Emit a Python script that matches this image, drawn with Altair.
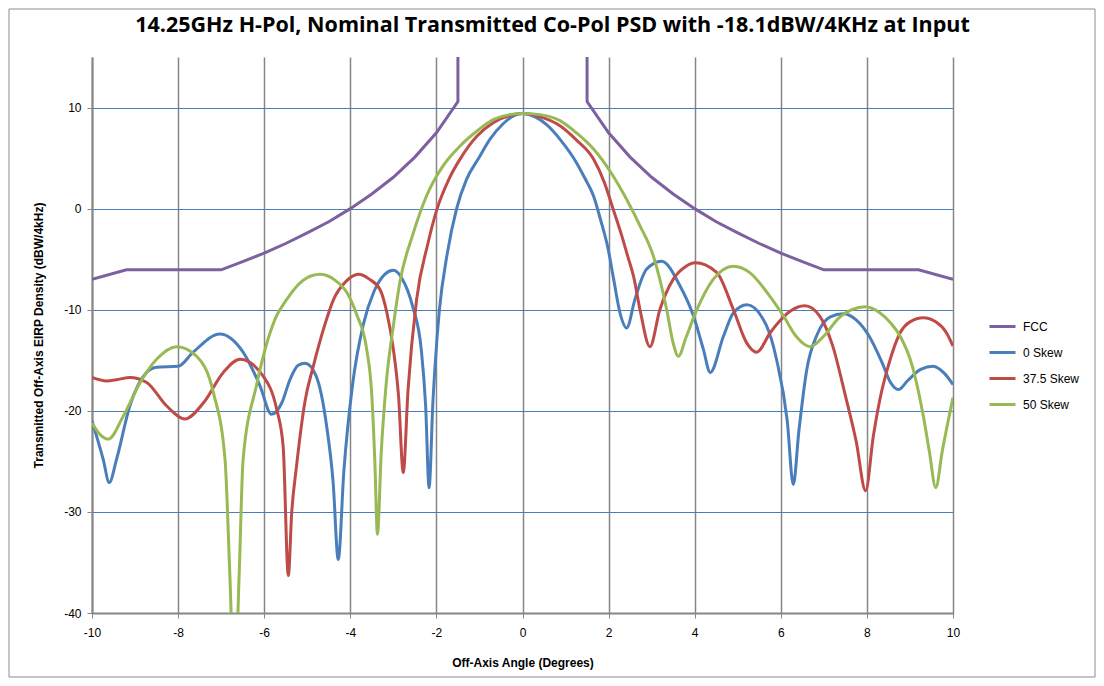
import altair as alt
import pandas as pd

TITLE = "14.25GHz H-Pol, Nominal Transmitted Co-Pol PSD with -18.1dBW/4KHz at Input"
X_TITLE = "Off-Axis Angle (Degrees)"
Y_TITLE = "Transmitted Off-Axis EIRP Density (dBW/4kHz)"

SERIES = ["FCC", "0 Skew", "37.5 Skew", "50 Skew"]
COLORS = ["#7D60A0", "#4A7EBB", "#BE4B48", "#98B954"]

X_TICKS = [-10, -8, -6, -4, -2, 0, 2, 4, 6, 8, 10]
Y_TICKS = [-40, -30, -20, -10, 0, 10]

# FCC envelope (the vertical parts leave the top of the plot)
FCC_X = [-10, -9.2, -7, -6.5, -6, -5.5, -5, -4.5, -4, -3.5, -3, -2.5, -2, -1.5, -1.5,
         1.5, 1.5, 2, 2.5, 3, 3.5, 4, 4.5, 5, 5.5, 6, 6.5, 7, 9.2, 10]
FCC_Y = [-7.0, -6.05, -6.05, -5.25, -4.4, -3.45, -2.4, -1.3, 0.0, 1.45, 3.1, 5.1, 7.5, 10.6, 40,
         40, 10.6, 7.5, 5.1, 3.1, 1.45, 0.0, -1.3, -2.4, -3.45, -4.4, -5.25, -6.05, -6.05, -7.0]

S0_X = [-10, -9.74, -9.6, -9.43, -9.12, -8.73, -8.5, -8.0, -7.65, -7.03, -6.49, -6.1, -5.83,
        -5.59, -5.4, -5.21, -5.05, -4.8, -4.55, -4.4, -4.28, -4.15, -3.95, -3.7, -3.45, -3.2,
        -3.0, -2.8, -2.55, -2.35, -2.25, -2.17, -2.08, -1.98, -1.93, -1.75, -1.53, -1.3, -1.03,
        -0.75, -0.45, -0.2, 0, 0.28, 0.56, 0.9, 1.26, 1.45, 1.65, 1.82, 1.99, 2.11, 2.27, 2.42,
        2.61, 2.88, 3.23, 3.66, 3.97, 4.2, 4.36, 4.67, 4.9, 5.21, 5.67, 5.9, 6.15, 6.29, 6.42,
        6.6, 6.85, 7.15, 7.45, 7.75, 8.05, 8.35, 8.55, 8.73, 8.95, 9.25, 9.54, 9.8, 10]
S0_Y = [-21.0, -24.8, -27.1, -24.8, -19.5, -16.2, -15.7, -15.6, -14.2, -12.4, -14.2, -17.5, -20.35,
        -19.2, -16.9, -15.5, -15.3, -16.5, -21.5, -27.0, -34.7, -26.0, -17.5, -11.5, -8.2, -6.5,
        -6.1, -6.9, -9.7, -14.0, -19.5, -27.6, -19.0, -12.5, -10.0, -4.5, 0.0, 2.9, 4.9,
        6.9, 8.4, 9.2, 9.4, 9.1, 8.3, 6.7, 4.5, 3.0, 1.25, -1.2, -4.0, -6.8, -10.4, -11.8,
        -9.0, -6.0, -5.2, -7.65, -10.6, -13.9, -16.2, -12.6, -10.3, -9.5, -11.6, -14.9, -21.0, -27.3, -22.0,
        -16.0, -12.4, -10.7, -10.4, -11.0, -12.6, -15.2, -17.2, -17.9, -17.0, -15.9, -15.6, -16.3, -17.4]

S1_X = [-10, -9.66, -9.4, -9.12, -8.73, -8.27, -7.84, -7.41, -6.95, -6.56, -6.02, -5.71,
        -5.56, -5.44, -5.36, -5.25, -5.05, -4.86, -4.6, -4.39, -4.1, -3.81, -3.55, -3.31, -3.15,
        -3.0, -2.88, -2.77, -2.66, -2.46, -2.2, -1.99, -1.7, -1.45, -1.05, -0.68, -0.3, 0,
        0.4, 0.87, 1.25, 1.65, 1.9, 2.11, 2.3, 2.45, 2.58, 2.73, 2.96, 3.19, 3.5, 3.8, 4.01, 4.51,
        4.9, 5.21, 5.44, 5.75, 5.98, 6.2, 6.56, 6.9, 7.2, 7.5, 7.75, 7.97, 8.15, 8.3, 8.5, 8.77,
        9.0, 9.31, 9.6, 9.85, 10]
S1_Y = [-16.7, -17.05, -16.9, -16.7, -17.2, -19.5, -20.8, -19.2, -16.2, -14.9, -16.6, -19.85,
        -23.5, -36.3, -30.0, -25.5, -19.0, -15.6, -11.6, -9.0, -7.2, -6.5, -7.0, -8.0, -10.3,
        -13.9, -18.5, -26.1, -18.0, -9.0, -3.5, -0.1, 3.0, 4.9, 7.2, 8.5, 9.2, 9.4,
        9.1, 8.2, 6.8, 4.9, 2.6, -0.1, -2.6, -4.8, -6.7, -10.0, -13.65, -10.0, -7.0, -5.7, -5.35, -6.3,
        -10.0, -13.3, -14.2, -12.3, -11.1, -10.2, -9.6, -10.6, -13.5, -18.5, -23.0, -27.9, -22.5, -18.9, -15.5, -12.3,
        -11.2, -10.8, -11.2, -12.3, -13.6]

S2_X = [-10, -9.8, -9.62, -9.27, -8.88, -8.5, -8.03, -7.57, -7.18, -6.91, -6.8, -6.69,
        -6.58, -6.49, -6.18, -5.75, -5.48, -5.1, -4.7, -4.35, -4.08, -3.85, -3.62, -3.5,
        -3.43, -3.37, -3.28, -3.17, -3.0, -2.85, -2.55, -2.23, -1.85, -1.45, -1.05, -0.68, -0.3,
        0, 0.4, 0.87, 1.25, 1.65, 2.05, 2.42, 2.73, 3.04, 3.35, 3.5, 3.62, 3.81, 4.05, 4.43,
        4.9, 5.3, 5.7, 6.06, 6.35, 6.68, 7.0, 7.35, 7.65, 7.96, 8.3, 8.55, 8.77, 9.05, 9.31,
        9.45, 9.6, 9.75, 10]
S2_Y = [-21.2, -22.4, -22.8, -20.5, -17.2, -14.9, -13.65, -14.6, -18.2, -24.8, -36.0, -48.0,
        -36.0, -24.8, -17.5, -10.95, -9.0, -7.1, -6.5, -7.1, -8.3, -10.5, -13.9, -18.5,
        -25.0, -32.2, -24.0, -17.5, -11.6, -7.3, -2.6, 1.25, 4.2, 6.2, 7.7, 8.8, 9.3,
        9.4, 9.3, 8.7, 7.5, 5.9, 3.6, 0.9, -1.7, -4.7, -10.0, -13.3, -14.6, -12.6, -10.0, -7.0,
        -5.7, -6.4, -8.4, -10.6, -12.6, -13.65, -12.6, -10.8, -10.0, -9.7, -10.3, -11.3, -12.6, -15.5, -20.5,
        -24.0, -27.6, -24.0, -18.7]

fcc_df = pd.DataFrame({"series": "FCC", "x": FCC_X, "y": FCC_Y, "i": list(range(len(FCC_X)))})
curve_df = pd.concat([
    pd.DataFrame({"series": name, "x": xs, "y": ys})
    for name, xs, ys in [("0 Skew", S0_X, S0_Y), ("37.5 Skew", S1_X, S1_Y), ("50 Skew", S2_X, S2_Y)]
], ignore_index=True)

FONT = "Liberation Sans"
GRAY = "#868686"

x_enc = alt.X("x:Q", title=X_TITLE,
              scale=alt.Scale(domain=[-10, 10], nice=False, zero=False),
              axis=alt.Axis(values=X_TICKS, grid=True, gridColor=GRAY, gridWidth=1.5,
                            domainColor=GRAY, domainWidth=2, tickColor=GRAY, tickSize=5,
                            labelFont=FONT, labelFontSize=12, labelColor="black", labelPadding=9,
                            labelFlush=False, labelExpr="'' + datum.value",
                            titleFont=FONT, titleFontSize=12, titleFontWeight="bold",
                            titleColor="black", titlePadding=19))
y_enc = alt.Y("y:Q", title=Y_TITLE,
              scale=alt.Scale(domain=[-40, 15], nice=False, zero=False),
              axis=alt.Axis(values=Y_TICKS, grid=True, gridColor="#4A7EBB", gridWidth=1,
                            domainColor=GRAY, domainWidth=2, tickColor=GRAY, tickSize=5,
                            labelFont=FONT, labelFontSize=12, labelColor="black", labelPadding=6,
                            labelFlush=False, labelExpr="'' + datum.value",
                            titleFont=FONT, titleFontSize=12,
                            titleFontWeight="bold", titleColor="black", titlePadding=18))
color_enc = alt.Color("series:N",
                      scale=alt.Scale(domain=SERIES, range=COLORS),
                      legend=alt.Legend(orient="none", legendX=896, legendY=255, title=None,
                                        symbolType="stroke", symbolStrokeWidth=3, symbolSize=676,
                                        labelFont=FONT, labelFontSize=12, labelColor="black",
                                        rowPadding=5, padding=0, labelOffset=6))

fcc = alt.Chart(fcc_df).mark_line(clip=True, strokeWidth=3).encode(
    x=x_enc, y=y_enc, color=color_enc, order="i:Q")
curves = alt.Chart(curve_df).mark_line(clip=True, strokeWidth=3, interpolate="monotone").encode(
    x="x:Q", y="y:Q", color="series:N")
frame = alt.Chart(alt.Data(values=[{}])).mark_rect(
    fillOpacity=0, stroke="#8C8C8C", strokeWidth=1).encode(
    x=alt.value(-83), x2=alt.value(861 + 142), y=alt.value(-48), y2=alt.value(556 + 64))

chart = alt.layer(fcc, curves, frame).properties(
    width=861, height=556,
    title=alt.TitleParams(TITLE, font="Open Sans", fontSize=21.5, fontWeight="bold", color="black",
                          anchor="middle", dx=30, offset=-28),
    padding={"left": 84, "top": 49, "right": 143, "bottom": 65},
    autosize=alt.AutoSizeParams(type="none"),
    background="white",
).configure_view(stroke=None)

chart.save("out.html", embed_options={"renderer": "svg", "actions": False})
